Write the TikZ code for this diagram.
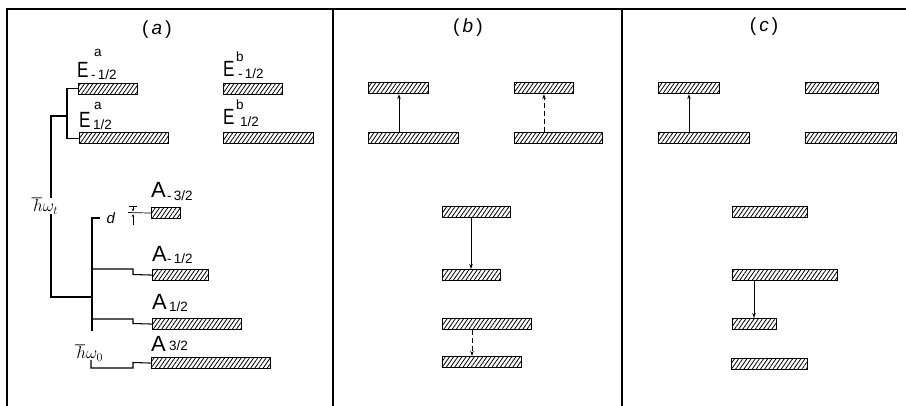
\documentclass[tikz,border=0pt]{standalone}
\usepackage{fontspec}
\setmainfont{Liberation Sans}
\usetikzlibrary{patterns.meta,arrows.meta}
\begin{document}
\begin{tikzpicture}[x=1pt,y=-1pt,
  bar/.style={draw, line width=1.15pt, inner sep=0pt, minimum height=11pt, anchor=north west,
    pattern={Lines[angle=55,distance=3.4pt,line width=0.8pt]}},
  frame/.style={line width=1.3pt},
  conn/.style={line width=1.05pt},
  arr/.style={line width=0.9pt, -{Stealth[length=5pt,width=3.5pt]}},
  darr/.style={arr, dash pattern=on 5pt off 3pt},
  big/.style={inner sep=0pt, anchor=base west, font=\fontsize{22}{22}\selectfont},
  sm/.style={inner sep=0pt, anchor=base west, font=\fontsize{13.5}{13.5}\selectfont},
  panel/.style={inner sep=0pt, font=\fontsize{19}{19}\selectfont},
]
\useasboundingbox[fill=white] (0,0) rectangle (906,406);
% frame
\draw[frame] (7,406) -- (7,9) -- (906,9);
\draw[frame] (333,9) -- (333,406);
\draw[frame] (622,9) -- (622,406);
\node[panel] (la) at (157,30) {(\,\textit{a}\,)};
\node[panel] (lb) at (468,28) {(\,\textit{b}\,)};
\node[panel] (lc) at (764,27) {(\,\textit{c}\,)};

% ---------- panel (a) ----------
\node[bar, minimum width=59pt] (ea1) at (78,83) {};
\node[bar, minimum width=89pt] (ea2) at (79,132) {};
\node[bar, minimum width=59pt] (eb1) at (223,83) {};
\node[bar, minimum width=90pt] (eb2) at (223,132) {};
\node[bar, minimum width=29pt] (am3) at (151,207) {};
\node[bar, minimum width=56pt] (am1) at (152,269) {};
\node[bar, minimum width=89pt] (ap1) at (152,318) {};
\node[bar, minimum width=119pt] (ap3) at (151,357) {};

% labels
\node[big] (tEa1) at (77,78) {\scalebox{0.78}[1]{E}};
\node[sm] (sEa1) at (94,57) {a};
\node[sm] (uEa1) at (91,80) {-\,1/2};
\node[big] (tEa2) at (79,128) {\scalebox{0.78}[1]{E}};
\node[sm] (sEa2) at (94,110) {a};
\node[sm] (uEa2) at (93,130) {1/2};
\node[big] (tEb1) at (223,77) {\scalebox{0.78}[1]{E}};
\node[sm] (sEb1) at (236,62) {b};
\node[sm] (uEb1) at (238,79) {-\,1/2};
\node[big] (tEb2) at (223,125) {\scalebox{0.78}[1]{E}};
\node[sm] (sEb2) at (236,110) {b};
\node[sm] (uEb2) at (240,127) {1/2};
\node[big] (tAm3) at (151,198) {A};
\node[sm] (uAm3) at (167,201) {-\,3/2};
\node[big] (tAm1) at (152,262) {A};
\node[sm] (uAm1) at (167,264) {-\,1/2};
\node[big] (tAp1) at (152,310) {A};
\node[sm] (uAp1) at (169,312) {1/2};
\node[big] (tAp3) at (151,352) {A};
\node[sm] (uAp3) at (169,351) {3/2};

\node[inner sep=0pt, font=\fontsize{18}{18}\selectfont] (hwt) at (45,206) {$\hbar\omega_t$};
\node[inner sep=0pt, font=\fontsize{18}{18}\selectfont] (hw0) at (89,353) {$\hbar\omega_0$};
\node[inner sep=0pt, font=\fontsize{15}{15}\selectfont] (dd) at (111,218) {\textit{d}};

% tree connectors
\coordinate (jE) at (67,116);
\coordinate (jA) at (92,297);
\draw[conn] (ea1.west) -- ++(-11,0) |- (ea2.west);
\draw[conn] (jE) -- (51,116) -- (hwt.north -| 51,0);
\draw[conn] (hwt.south -| 51,0) -- (51,297) -- (jA);
\draw[conn] (100,218) -- (92,218) -- (92,331);
\draw[conn] (92,269) -- (133,269) -- (133,274.5) -- (am1.west);
\draw[conn] (92,319) -- (133,319) -- (133,323.5) -- (ap1.west);
\draw[conn] (91,360) -- (91,368) -- (133,368) -- (133,362.5) -- (ap3.west);
% d indicator
\draw[line width=0.7pt] (128,212.5) -- (am3.west);
\draw[line width=0.7pt] (129,206) -- (137,206);
\draw[line width=0.6pt, -{Stealth[length=3pt,width=2.5pt]}] (133,206) -- (133,211.5);
\draw[line width=0.6pt, -{Stealth[length=3pt,width=2.5pt]}] (133,225) -- (133,214);

% ---------- panel (b) ----------
\node[bar, minimum width=60pt] (b1) at (368,82) {};
\node[bar, minimum width=90pt] (b2) at (368,132) {};
\node[bar, minimum width=59pt] (b3) at (514,82) {};
\node[bar, minimum width=88pt] (b4) at (514,132) {};
\node[bar, minimum width=68pt] (b5) at (442,206) {};
\node[bar, minimum width=58pt] (b6) at (442,269) {};
\node[bar, minimum width=89pt] (b7) at (442,318) {};
\node[bar, minimum width=79pt] (b8) at (442,356) {};
\coordinate (xb1) at (399,0);
\coordinate (xb2) at (544,0);
\coordinate (xb3) at (471,0);
\coordinate (xb4) at (472,0);
\draw[arr] (b2.north -| xb1) -- (b1.south -| xb1);
\draw[darr] (b4.north -| xb2) -- (b3.south -| xb2);
\draw[arr] (b5.south -| xb3) -- (b6.north -| xb3);
\draw[darr] (b7.south -| xb4) -- (b8.north -| xb4);

% ---------- panel (c) ----------
\node[bar, minimum width=61pt] (c1) at (658,82) {};
\node[bar, minimum width=91pt] (c2) at (658,132) {};
\node[bar, minimum width=73pt] (c3) at (805,82) {};
\node[bar, minimum width=91pt] (c4) at (805,132) {};
\node[bar, minimum width=75pt] (c5) at (732,206) {};
\node[bar, minimum width=105pt] (c6) at (732,269) {};
\node[bar, minimum width=44pt] (c7) at (732,318) {};
\node[bar, minimum width=76pt] (c8) at (731,358) {};
\coordinate (xc1) at (689,0);
\coordinate (xc2) at (754,0);
\draw[arr] (c2.north -| xc1) -- (c1.south -| xc1);
\draw[arr] (c6.south -| xc2) -- (c7.north -| xc2);
\end{tikzpicture}
\end{document}
